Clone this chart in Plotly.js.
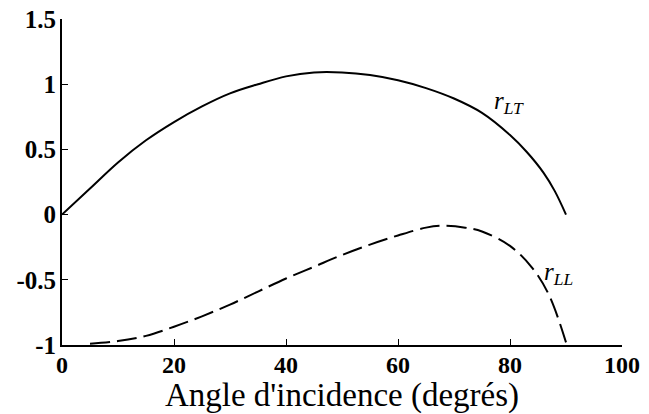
<!DOCTYPE html>
<html>
<head>
<meta charset="utf-8">
<script src="https://cdn.plot.ly/plotly-3.0.1.min.js"></script>
<style>html,body{margin:0;padding:0;background:#fff;}#chart{width:649px;height:414px;}</style>
</head>
<body>
<div id="chart"></div>
<script>
const angleLT = [0, 5, 10, 15, 20, 25, 30, 35, 40, 45, 50, 55, 60, 65, 70, 75, 80, 83, 86, 88, 90];
const rLT = [0, 0.2, 0.4, 0.57, 0.71, 0.83, 0.93, 1.0, 1.06, 1.09, 1.09, 1.07, 1.03, 0.97, 0.89, 0.78, 0.61, 0.48, 0.32, 0.18, 0];
const angleLL = [5, 10, 15, 20, 25, 30, 35, 40, 45, 50, 55, 60, 65, 68, 72, 75, 80, 84, 87, 90];
const rLL = [-0.99, -0.97, -0.93, -0.86, -0.78, -0.69, -0.59, -0.49, -0.4, -0.31, -0.23, -0.16, -0.1, -0.085, -0.1, -0.13, -0.24, -0.41, -0.62, -0.98];
const xTicks = [0, 20, 40, 60, 80, 100];
const yTicks = [-1, -0.5, 0, 0.5, 1, 1.5];
const yTickText = ['-1', '-0.5', '0', '0.5', '1', '1.5'];

const traces = [
  {x: angleLT, y: rLT, mode: 'lines', line: {color: '#000', width: 2, shape: 'spline'}, name: 'rLT'},
  {x: angleLL, y: rLL, mode: 'lines', line: {color: '#000', width: 2, dash: '20px,7px', shape: 'spline'}, name: 'rLL'}
];
const serif = '"Times New Roman", Times, "Liberation Serif", "DejaVu Serif", serif';
const layout = {
  width: 649, height: 414,
  margin: {l: 62, r: 27, t: 19, b: 69},
  paper_bgcolor: '#fff', plot_bgcolor: '#fff',
  showlegend: false,
  font: {family: serif, color: '#000'},
  xaxis: {
    range: [0, 100], tickvals: xTicks, ticks: 'inside', ticklen: 6, tickwidth: 1, tickcolor: '#000',
    showline: true, linecolor: '#000', linewidth: 2, showgrid: false, zeroline: false,
    ticklabelstandoff: -3,
    tickfont: {family: serif, size: 24, color: '#000', weight: 'bold'},
    title: {text: "Angle d'incidence (degrés)", font: {family: serif, size: 33, color: '#000'}, standoff: 0}
  },
  yaxis: {
    range: [-1, 1.5], tickvals: yTicks, ticktext: yTickText, ticks: 'inside', ticklen: 6, tickwidth: 1, tickcolor: '#000',
    showline: true, linecolor: '#000', linewidth: 2, showgrid: false, zeroline: false,
    ticklabelstandoff: -1,
    tickfont: {family: serif, size: 25, color: '#000', weight: 'bold'}
  },
  annotations: [
    {x: 76.8, y: 0.86, xref: 'x', yref: 'y', xanchor: 'left', yanchor: 'middle', showarrow: false,
     text: '<i>r</i><sub><i>LT</i></sub>', font: {family: serif, size: 25, color: '#000'}},
    {x: 85.8, y: -0.45, xref: 'x', yref: 'y', xanchor: 'left', yanchor: 'middle', showarrow: false,
     text: '<i>r</i><sub><i>LL</i></sub>', font: {family: serif, size: 25, color: '#000'}}
  ]
};
Plotly.newPlot('chart', traces, layout, {displayModeBar: false, staticPlot: true});
</script>
</body>
</html>
